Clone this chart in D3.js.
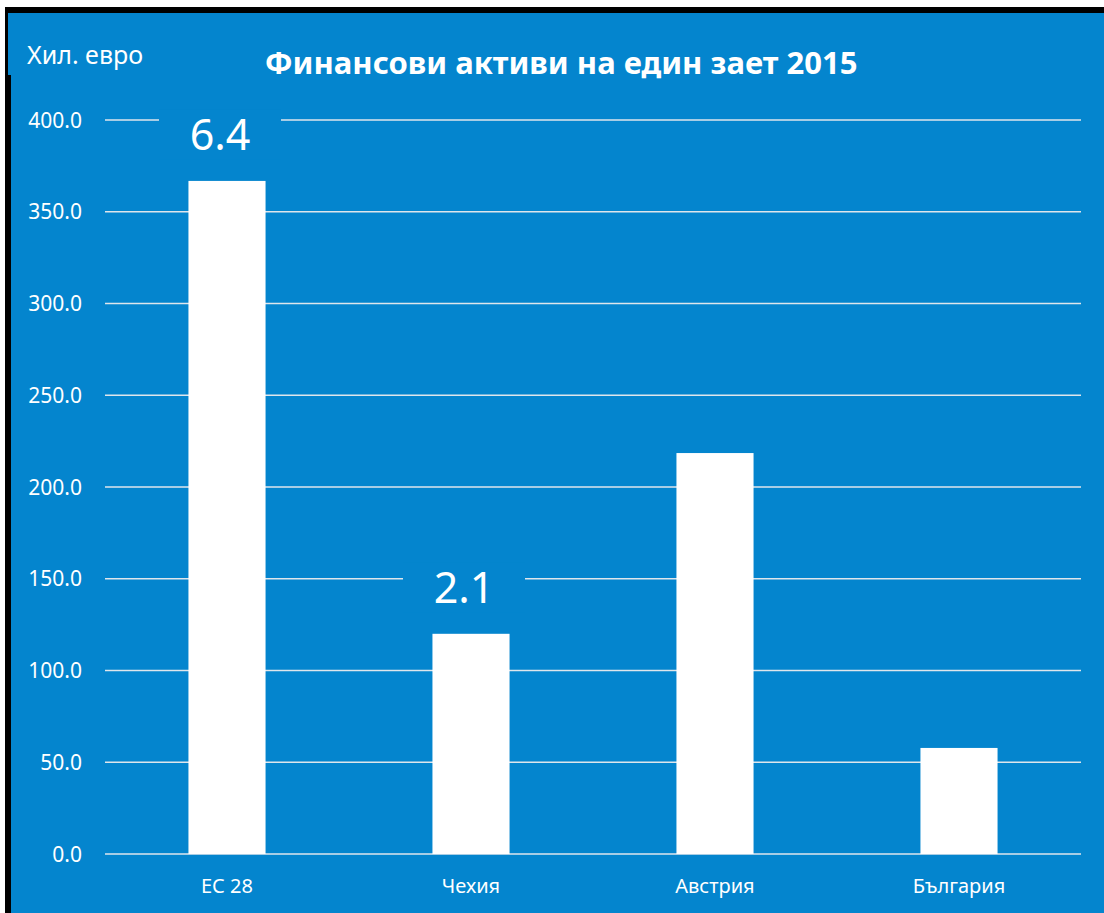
<!DOCTYPE html>
<html>
<head>
<meta charset="utf-8">
<script src="https://cdn.jsdelivr.net/npm/d3@7"></script>
<style>
  html, body { margin: 0; padding: 0; background: #fff; }
  svg { display: block; }
  text { font-family: "Noto Sans", "Open Sans", sans-serif; fill: #fff; }
</style>
</head>
<body>
<svg id="chart" width="1104" height="913"></svg>
<script>
// chart data
const categories = ['ЕС 28', 'Чехия', 'Австрия', 'България'];
const values = [366.8, 120.0, 218.5, 57.8];
const dataLabels = ['6.4', '2.1', null, null];
const yTicks = [0, 50, 100, 150, 200, 250, 300, 350, 400];

const svg = d3.select('#chart');
const width = 1104, height = 913;
const blue = '#0485CE';

// frame
svg.append('rect').attr('x', 5).attr('y', 7).attr('width', width - 5).attr('height', height - 7).attr('fill', '#000');
svg.append('rect').attr('x', 11).attr('y', 13).attr('width', width - 11).attr('height', height - 13).attr('fill', blue);
svg.append('rect').attr('x', 8).attr('y', 13).attr('width', 4).attr('height', 62).attr('fill', blue);

const margin = { left: 105, right: 23, top: 120, bottom: 59 };

const x = d3.scaleBand()
    .domain(categories)
    .range([margin.left, width - margin.right])
    .paddingInner(0.684)
    .paddingOuter(0.342);

const y = d3.scaleLinear()
    .domain([0, 400])
    .range([height - margin.bottom, margin.top]);

// gridlines
svg.append('g')
    .selectAll('line')
    .data(yTicks)
    .join('line')
    .attr('x1', margin.left)
    .attr('x2', width - margin.right)
    .attr('y1', d => y(d))
    .attr('y2', d => y(d))
    .attr('stroke', '#dfe6ec')
    .attr('stroke-width', 1.5);

// y tick labels
svg.append('g')
    .selectAll('text')
    .data(yTicks)
    .join('text')
    .attr('x', 82)
    .attr('y', d => y(d))
    .attr('dy', '0.36em')
    .attr('text-anchor', 'end')
    .style('font-size', '21px')
    .text(d => d.toFixed(1));

// bars
svg.append('g')
    .selectAll('rect')
    .data(values)
    .join('rect')
    .attr('x', (d, i) => x(categories[i]))
    .attr('y', d => y(d))
    .attr('width', x.bandwidth())
    .attr('height', d => y(0) - y(d))
    .attr('fill', '#fff');

// data labels with blue background covering grid
values.forEach((v, i) => {
    if (!dataLabels[i]) return;
    const cx = x(categories[i]) + x.bandwidth() / 2 - 7;
    const by = y(v) - 31;
    svg.append('rect')
        .attr('x', cx - 61).attr('y', by - 40)
        .attr('width', 122).attr('height', 50)
        .attr('fill', blue);
    svg.append('text')
        .attr('x', cx)
        .attr('y', by)
        .attr('text-anchor', 'middle')
        .style('font-size', '43px')
        .text(dataLabels[i]);
});

// x labels
svg.append('g')
    .selectAll('text')
    .data(categories)
    .join('text')
    .attr('x', d => x(d) + x.bandwidth() / 2)
    .attr('y', 893)
    .attr('text-anchor', 'middle')
    .style('font-size', '20px')
    .text(d => d);

// titles
svg.append('text')
    .attr('x', 27).attr('y', 64)
    .style('font-size', '25px')
    .text('Хил. евро');

svg.append('text')
    .attr('x', 561).attr('y', 74)
    .attr('text-anchor', 'middle')
    .style('font-size', '31px')
    .style('font-weight', 'bold')
    .text('Финансови активи на един зает 2015');
</script>
</body>
</html>
